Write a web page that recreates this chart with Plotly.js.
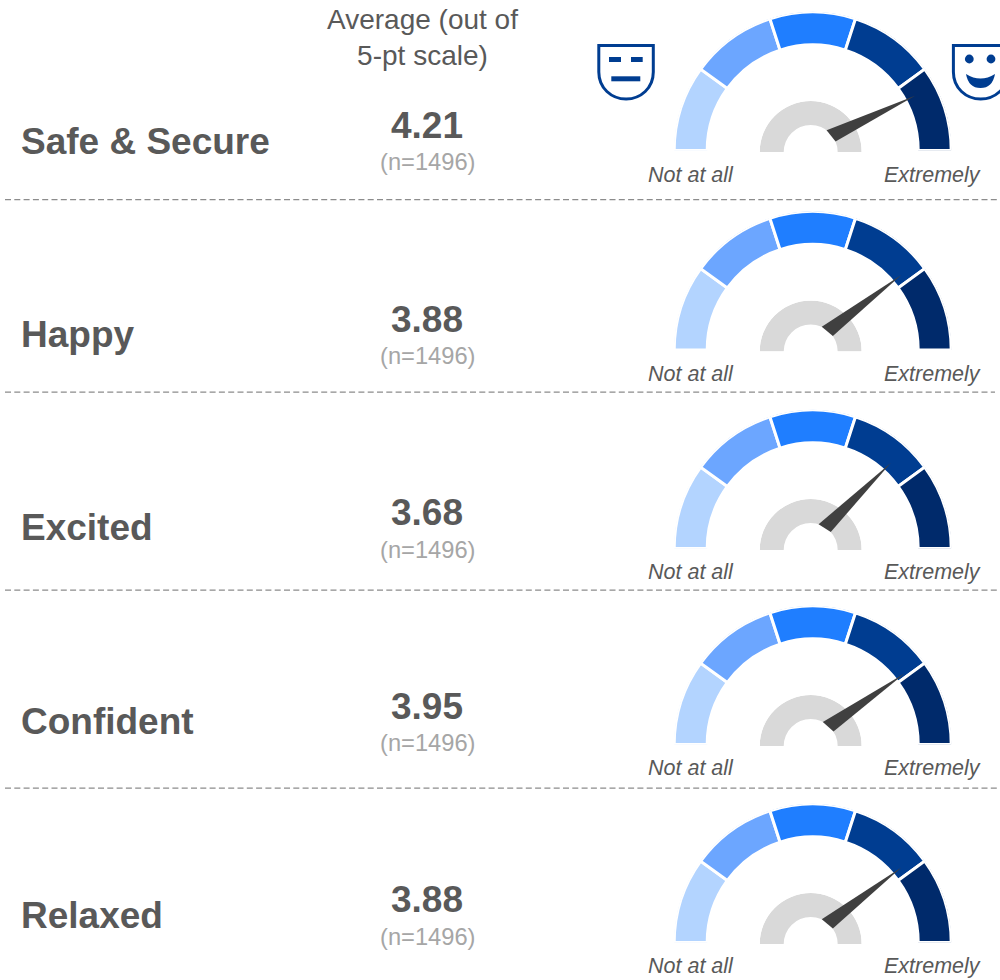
<!DOCTYPE html>
<html><head><meta charset="utf-8">
<script src="https://cdn.plot.ly/plotly-3.0.1.min.js"></script>
<style>html,body{margin:0;padding:0;background:#fff;overflow:hidden}#c{width:1000px;height:980px}</style>
</head><body><div id="c"></div>
<script>
const categories = ['Safe & Secure','Happy','Excited','Confident','Relaxed'];
const averages = [4.21,3.88,3.68,3.95,3.88];
const sampleSizes = [1496,1496,1496,1496,1496];
const bands = [1,2,3,4,5];
const bandColors = ['#B3D4FF','#6CA6FF','#1F7EFF','#003D91','#002A6B'];
const scaleLabels = ['Not at all','Extremely'];
const headerText = 'Average (out of<br>5-pt scale)';

const W=1000,H=980,FONT='"Liberation Sans", Arial, sans-serif';
const TXT='#595959',BLUE='#003D91';
const gaugeBase=[149,348.5,547,743,941];
const labelY=[141,334,527,721,915], valueY=[125.5,319.5,512.5,706.5,899.5], nY=[162,356,549.5,743,936.5], scaleY=[175,374,572,768,966];
const rules=[[5,199.5,1000],[5,392,995],[5,590,1000],[5,788,1000]];
const CX=812.7,R=139,GX=810.7,GR=51,Gr=27;

const dom=(cx,cy,r)=>({x:[(cx-r)/W,(cx+r)/W],y:[1-cy/H,1-(cy-r)/H]});
const polarAxes=(r)=>({sector:[0,180],bgcolor:'rgba(0,0,0,0)',
  radialaxis:{visible:false,range:[0,r]},
  angularaxis:{visible:false,direction:'clockwise',rotation:180,thetaunit:'degrees'}});

const traces=[],layout={width:W,height:H,margin:{l:0,r:0,t:0,b:0},paper_bgcolor:'#fff',showlegend:false,
  font:{family:FONT,color:TXT},annotations:[],shapes:[]};

const note=(x,y,text,size,opts={})=>layout.annotations.push(Object.assign({xref:'paper',yref:'paper',x:x/W,y:1-y/H,text,showarrow:false,
  xanchor:'center',yanchor:'middle',font:{family:FONT,size,color:TXT},borderpad:0},opts));

categories.forEach((cat,i)=>{
  const a='polar'+(i*2+1===1?'':i*2+1), b='polar'+(i*2+2);
  const cy=gaugeBase[i]+1.5, gy=gaugeBase[i]+3;
  layout[a]=Object.assign(polarAxes(GR),{domain:dom(GX,gy,GR)});
  layout[b]=Object.assign(polarAxes(R),{domain:dom(CX,cy,R)});
  traces.push({type:'barpolar',subplot:a,r:[GR-Gr],base:[Gr],theta:[90],width:[180],marker:{color:'#D9D9D9',line:{width:0}},hoverinfo:'skip'});
  traces.push({type:'barpolar',subplot:b,r:bands.map(()=>33),base:bands.map(()=>105.5),
    theta:bands.map(v=>(v-0.5)*36),width:bands.map(()=>36),
    marker:{color:bandColors,line:{color:'#fff',width:3}},hoverinfo:'skip'});
  // needle: its angle comes from the average on the 0-5 dial
  const dial=averages[i]*36+3, e=(180-dial)*Math.PI/180;
  const baseA=e+13*Math.PI/180, spread=15.5*Math.PI/180, L=93;
  const gcx=GX-CX, gcy=gy-cy; // gray-arc centre relative to the colour-arc centre, y down
  const pt=(ang,rad)=>[gcx+rad*Math.cos(ang), gcy-rad*Math.sin(ang)];
  const p1=pt(baseA+spread,Gr), p2=pt(baseA-spread,Gr), bc=pt(baseA,Gr*0.966);
  const tip=[bc[0]+L*Math.cos(e), bc[1]-L*Math.sin(e)];
  const pts=[p1,tip,p2,p1];
  traces.push({type:'scatterpolar',subplot:b,mode:'lines',fill:'toself',fillcolor:'#404040',line:{width:0,color:'#404040'},
    r:pts.map(p=>Math.hypot(p[0],p[1])),
    theta:pts.map(p=>180-Math.atan2(-p[1],p[0])*180/Math.PI),hoverinfo:'skip'});
  note(20,labelY[i],cat,37,{xanchor:'left',text:'<b>'+cat.replace('&','&amp;')+'</b>'});
  note(427,valueY[i],'<b>'+averages[i].toFixed(2)+'</b>',37);
  note(427.5,nY[i],'(n='+sampleSizes[i]+')',23.7,{font:{family:FONT,size:23.7,color:'#A6A6A6'}});
  note(690.6,scaleY[i],'<i>'+scaleLabels[0]+'</i>',21.5);
  note(932.3,scaleY[i],'<i>'+scaleLabels[1]+'</i>',21.5);
});
note(422,37,headerText,28,{});

rules.forEach(r=>layout.shapes.push({type:'line',xref:'paper',yref:'paper',x0:r[0]/W,x1:r[2]/W,y0:1-r[1]/H,y1:1-r[1]/H,
  line:{color:'#8C8C8C',width:1.25,dash:'6px,3.3px'}}));

// face icons
const P=(x,y)=>(x/W).toFixed(5)+','+(1-y/H).toFixed(5);
const face=(l)=>'M '+P(l,45.5)+' L '+P(l+54.5,45.5)+' L '+P(l+54.5,72)+' C '+P(l+54.5,88)+' '+P(l+42,99)+' '+P(l+27.3,99)+' C '+P(l+12.5,99)+' '+P(l,88)+' '+P(l,72)+' Z';
const outline=d=>({type:'path',xref:'paper',yref:'paper',path:d,line:{color:BLUE,width:3},fillcolor:'rgba(0,0,0,0)'});
const solid=d=>({type:'path',xref:'paper',yref:'paper',path:d,line:{width:0},fillcolor:BLUE});
const box=(x0,y0,x1,y1)=>({type:'rect',xref:'paper',yref:'paper',x0:x0/W,x1:x1/W,y0:1-y0/H,y1:1-y1/H,line:{width:0},fillcolor:BLUE});
const dot=(cx,cy,r)=>({type:'circle',xref:'paper',yref:'paper',x0:(cx-r)/W,x1:(cx+r)/W,y0:1-(cy-r)/H,y1:1-(cy+r)/H,line:{width:0},fillcolor:BLUE});
layout.shapes.push(outline(face(598.8)),box(609,57,621,62),box(631,57,642.7,62),box(611.3,76.3,640.3,81.3));
layout.shapes.push(outline(face(953.4)),dot(969.3,59,4.4),dot(991,59,4.4),
  solid('M '+P(966,74)+' Q '+P(980.5,83)+' '+P(995,74)+' Q '+P(992.5,88)+' '+P(980.5,88)+' Q '+P(968.5,88)+' '+P(966,74)+' Z'));

Plotly.newPlot('c',traces,layout,{displayModeBar:false,staticPlot:true});
</script></body></html>
